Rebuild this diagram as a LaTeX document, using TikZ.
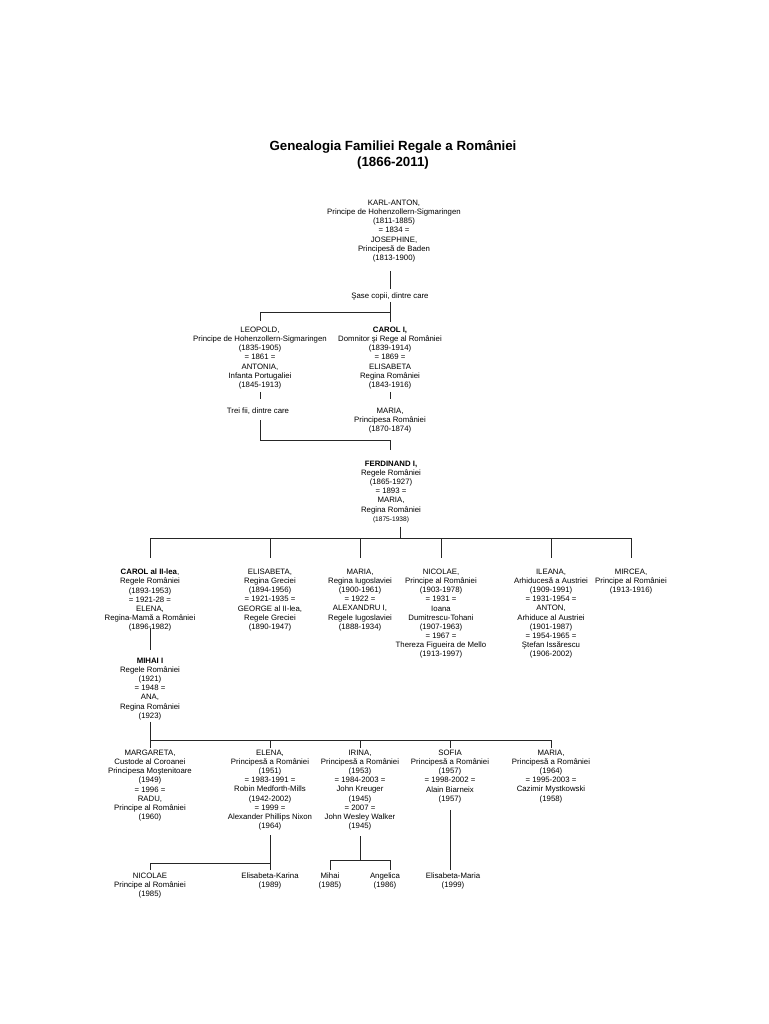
\documentclass[tikz,border=0pt]{standalone}
\usepackage{fontspec}
\setmainfont{Liberation Sans}
\begin{document}
\begin{tikzpicture}[x=1pt, y=-1pt,
    person/.style={align=center, inner sep=0pt, anchor=north, font=\fontsize{7.8}{9.1}\selectfont},
    link/.style={line width=1pt, black!85}]
    % page
    \fill[white] (0,0) rectangle (768,1024);
    \useasboundingbox (0,0) rectangle (768,1024);

    % the title
    \node[align=center, inner sep=0pt, anchor=north, font=\fontsize{13.3}{16}\selectfont\bfseries] (title) at (393,140)
        {Genealogia Familiei Regale a României\\(1866-2011)};

    % first generations
    \node[person] (karl) at (394,200) {KARL-ANTON,\\Principe de Hohenzollern-Sigmaringen\\(1811-1885)\\= 1834 =\\JOSEPHINE,\\Principesă de Baden\\(1813-1900)};
    \node[person] (sase) at (390,293) {Şase copii, dintre care};
    \node[person] (leopold) at (260,327) {LEOPOLD,\\Principe de Hohenzollern-Sigmaringen\\(1835-1905)\\= 1861 =\\ANTONIA,\\Infanta Portugaliei\\(1845-1913)};
    \node[person] (carol1) at (390,327) {\textbf{CAROL I,}\\Domnitor şi Rege al României\\(1839-1914)\\= 1869 =\\ELISABETA\\Regina României\\(1843-1916)};
    \node[person] (trei) at (258,408) {Trei fii, dintre care};
    \node[person] (maria1) at (390,408) {MARIA,\\Principesa României\\(1870-1874)};
    \node[person] (ferd) at (391,461) {\textbf{FERDINAND I,}\\Regele României\\(1865-1927)\\= 1893 =\\MARIA,\\Regina României\\{\fontsize{6.6}{9.1}\selectfont(1875-1938)}};

    % children of Ferdinand
    \node[person] (carol2) at (150,569) {\textbf{CAROL al II-lea},\\Regele României\\(1893-1953)\\= 1921-28 =\\ELENA,\\Regina-Mamă a României\\(1896-1982)};
    \node[person] (elisabeta) at (270,569) {ELISABETA,\\Regina Greciei\\(1894-1956)\\= 1921-1935 =\\GEORGE al II-lea,\\Regele Greciei\\(1890-1947)};
    \node[person] (maria2) at (360,569) {MARIA,\\Regina Iugoslaviei\\(1900-1961)\\= 1922 =\\ALEXANDRU I,\\Regele Iugoslaviei\\(1888-1934)};
    \node[person] (nicolae) at (441,569) {NICOLAE,\\Principe al României\\(1903-1978)\\= 1931 =\\Ioana\\Dumitrescu-Tohani\\(1907-1963)\\= 1967 =\\Thereza Figueira de Mello\\(1913-1997)};
    \node[person] (ileana) at (551,569) {ILEANA,\\Arhiducesă a Austriei\\(1909-1991)\\= 1931-1954 =\\ANTON,\\Arhiduce al Austriei\\(1901-1987)\\= 1954-1965 =\\Ştefan Issărescu\\(1906-2002)};
    \node[person] (mircea) at (631,569) {MIRCEA,\\Principe al României\\(1913-1916)};
    \node[person] (mihai) at (150,658) {\textbf{MIHAI I}\\Regele României\\(1921)\\= 1948 =\\ANA,\\Regina României\\(1923)};

    % children of Mihai
    \node[person] (margareta) at (150,750) {MARGARETA,\\Custode al Coroanei\\Principesa Moştenitoare\\(1949)\\= 1996 =\\RADU,\\Principe al României\\(1960)};
    \node[person] (elena) at (270,750) {ELENA,\\Principesă a României\\(1951)\\= 1983-1991 =\\Robin Medforth-Mills\\(1942-2002)\\= 1999 =\\Alexander Phillips Nixon\\(1964)};
    \node[person] (irina) at (360,750) {IRINA,\\Principesă a României\\(1953)\\= 1984-2003 =\\John Kreuger\\(1945)\\= 2007 =\\John Wesley Walker\\(1945)};
    \node[person] (sofia) at (450,750) {SOFIA\\Principesă a României\\(1957)\\= 1998-2002 =\\Alain Biarneix\\(1957)};
    \node[person] (mariaj) at (551,750) {MARIA,\\Principesă a României\\(1964)\\= 1995-2003 =\\Cazimir Mystkowski\\(1958)};

    % the grandchildren
    \node[person] (nicolaej) at (150,873) {NICOLAE\\Principe al României\\(1985)};
    \node[person] (elisabetak) at (270,873) {Elisabeta-Karina\\(1989)};
    \node[person] (mihaij) at (330,873) {Mihai\\(1985)};
    \node[person] (angelica) at (385,873) {Angelica\\(1986)};
    \node[person] (elisabetam) at (453,873) {Elisabeta-Maria\\(1999)};

    % the bars between the generations
    \coordinate (b1) at (0,312);
    \coordinate (b2) at (0,440);
    \coordinate (b3) at (400,538);
    \coordinate (b4) at (0,740);
    \coordinate (b5) at (0,863);
    \coordinate (irL) at (330,860);
    \coordinate (irR) at (390,860);

    % draw the lines
    \draw[link] ([yshift=-9pt]karl.south -| sase.north) -- ([yshift=4pt]sase.north);
    \draw[link] ([yshift=-1.5pt]sase.south) -- ([yshift=5pt]carol1.north);
    \draw[link] (sase |- b1) -- (leopold |- b1) -- ([yshift=6pt]leopold.north);
    \draw[link] ([yshift=-3pt]leopold.south) -- ([yshift=9pt]trei.north -| leopold);
    \draw[link] ([yshift=-3pt]carol1.south) -- ([yshift=9pt]maria1.north);
    \draw[link] ([yshift=-5pt]trei.south -| leopold) -- (leopold |- b2) -- (carol1 |- b2) -- ([yshift=11pt]ferd.north -| carol1);
    \draw[link] ([yshift=-4pt]ferd.south -| b3) -- (b3);
    \draw[link] (carol2 |- b3) -- (mircea |- b3);
    \foreach \c in {carol2, elisabeta, maria2, nicolae, ileana, mircea}
        \draw[link] (\c |- b3) -- ([yshift=11pt]\c.north);
    \draw[link] ([yshift=3pt]carol2.south) -- ([yshift=8pt]mihai.north);
    \draw[link] ([yshift=-2pt]mihai.south) -- ([yshift=2pt]margareta.north);
    \draw[link] (margareta |- b4) -- (mariaj |- b4);
    \foreach \c in {elena, irina, sofia, mariaj}
        \draw[link] (\c |- b4) -- ([yshift=2pt]\c.north);
    \draw[link] ([yshift=-5pt]elena.south) -- ([yshift=3pt]elisabetak.north);
    \draw[link] (elena |- b5) -- (nicolaej |- b5) -- ([yshift=3pt]nicolaej.north);
    \draw[link] ([yshift=-6pt]irina.south) -- (irina |- irL);
    \draw[link] ([yshift=3pt]mihaij.north -| irL) -- (irL) -- (irR) -- ([yshift=3pt]angelica.north -| irR);
    \draw[link] ([yshift=-7pt]sofia.south) -- ([yshift=3pt]elisabetam.north -| sofia);

\end{tikzpicture}
\end{document}
